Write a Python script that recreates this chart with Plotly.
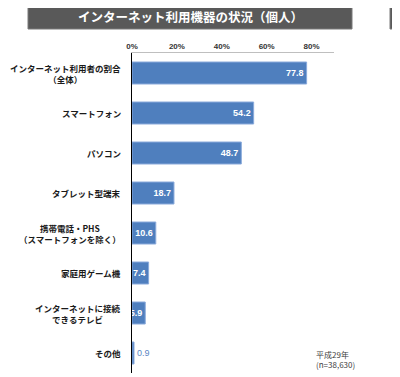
import plotly.graph_objects as go

categories = [
    "インターネット利用者の割合<br>（全体）",
    "スマートフォン",
    "パソコン",
    "タブレット型端末",
    "携帯電話・PHS<br>（スマートフォンを除く）",
    "家庭用ゲーム機",
    "インターネットに接続<br>できるテレビ",
    "その他",
]
values = [77.8, 54.2, 48.7, 18.7, 10.6, 7.4, 5.9, 0.9]
tick_vals = [0, 20, 40, 60, 80]
tick_text = ["0%", "20%", "40%", "60%", "80%"]
title_text = "インターネット利用機器の状況（個人）"
note_text = "平成29年<br>(n=38,630)"

ids = list(range(len(categories)))
positions = ["inside" if v > 2 else "outside" for v in values]
text_colors = ["white" if p == "inside" else "#5b86c4" for p in positions]
texts = [f"<b>{v}</b>" if p == "inside" else f"{v}" for v, p in zip(values, positions)]

# plot area in reference pixels: x 132..334, y 53..373
PL, PT, PW, PH = 132, 53, 202, 320

def px(x):
    return (x - PL) / PW

def py(y):
    return 1 - (y - PT) / PH

fig = go.Figure()
fig.add_trace(go.Bar(
    x=values, y=ids, orientation="h", width=0.55,
    marker=dict(color="#4f7fbe", line=dict(color="#8aaadb", width=1)),
    text=texts, textposition=positions, insidetextanchor="end",
    constraintext="none", cliponaxis=False, textangle=0,
    textfont=dict(family="Arial, Liberation Sans, sans-serif", size=9, color=text_colors),
    hoverinfo="skip",
))

for i, c in enumerate(categories):
    fig.add_annotation(
        x=0, xref="paper", y=i, yref="y", text=f"<b>{c}</b>",
        xanchor="right", yanchor="middle", align="center", xshift=-9,
        showarrow=False,
        font=dict(family="Noto Sans CJK JP", size=8.5, color="#1a1a1a"),
    )

# title bars
fig.add_shape(type="rect", xref="paper", yref="paper",
              x0=px(28), x1=px(352), y0=py(29), y1=py(5),
              fillcolor="#595959", line=dict(color="#7a7a7a", width=1))
fig.add_shape(type="rect", xref="paper", yref="paper",
              x0=px(390), x1=px(410), y0=py(29), y1=py(5),
              fillcolor="#595959", line=dict(color="#7a7a7a", width=1))
fig.add_annotation(
    x=px(190), xref="paper", y=py(17), yref="paper",
    text=f"<b>{title_text}</b>", showarrow=False,
    xanchor="center", yanchor="middle",
    font=dict(family="Noto Sans CJK JP", size=12.5, color="white"),
)
fig.add_annotation(
    x=px(314), xref="paper", y=py(347), yref="paper",
    text=note_text, showarrow=False, xanchor="left", yanchor="top", align="left",
    font=dict(family="Noto Sans CJK JP", size=8, color="#404040"),
)

# page body has an 8px default margin, so shift the figure up/left by 8px
OFF = 8
fig.update_layout(
    width=400, height=377,
    margin=dict(l=PL - OFF, r=400 - (PL - OFF) - PW, t=PT - OFF, b=377 - (PT - OFF) - PH),
    paper_bgcolor="white", plot_bgcolor="white",
    showlegend=False,
    xaxis=dict(
        range=[0, 90], side="top", tickvals=tick_vals, ticktext=tick_text,
        showgrid=False, zeroline=False, showline=True, linecolor="#bfbfbf",
        linewidth=1, ticks="", fixedrange=True,
        tickfont=dict(family="Arial, Liberation Sans, sans-serif", size=8, color="#333333", weight="bold"),
    ),
    yaxis=dict(
        range=[len(categories) - 0.5, -0.5], showticklabels=False,
        showgrid=False, zeroline=False, showline=True, linecolor="black",
        linewidth=1, ticks="", fixedrange=True,
    ),
)

fig.write_html("out.html")
